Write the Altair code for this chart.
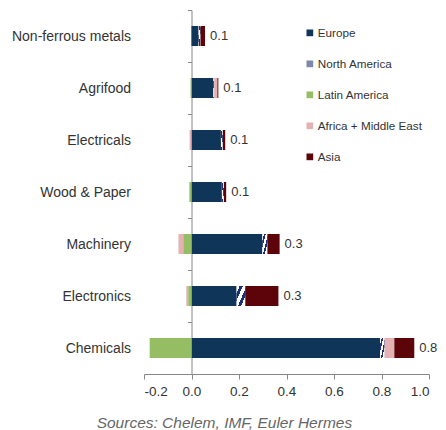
import altair as alt
import pandas as pd

categories = ["Non-ferrous metals", "Agrifood", "Electricals", "Wood & Paper",
              "Machinery", "Electronics", "Chemicals"]
regions = ["Europe", "North America", "Latin America", "Africa + Middle East", "Asia"]
colors = ["#0f3558", "#7e88aa", "#94bd64", "#e5b2b3", "#5d030a"]

europe = [0.030, 0.092, 0.124, 0.128, 0.298, 0.190, 0.794]
north_america = [0.007, 0.003, 0.007, 0.008, 0.021, 0.036, 0.018]
latin_america = [0.000, -0.004, 0.000, -0.009, -0.035, -0.014, -0.176]
africa_me = [0.000, 0.014, -0.008, 0.000, -0.020, -0.008, 0.042]
asia = [0.020, 0.004, 0.011, 0.010, 0.052, 0.140, 0.084]

series = [europe, north_america, latin_america, africa_me, asia]
rows = []
for ri, (reg, vals) in enumerate(zip(regions, series)):
    for cat, v in zip(categories, vals):
        rows.append({"category": cat, "region": reg, "order": ri, "value": v})
df = pd.DataFrame(rows)

W, H = 285, 364
font = "Liberation Sans"
zero_off = -W * 0.2 / 1.2

y_enc = alt.Y("category:N", sort=categories, title=None,
              scale=alt.Scale(paddingInner=0, paddingOuter=0),
              axis=alt.Axis(offset=zero_off, domainColor="#888888", tickColor="#888888",
                            tickBand="extent", tickSize=4, labelPadding=57,
                            labelFontSize=14, labelColor="#333333", labelFont=font))
x_scale = alt.Scale(domain=[-0.2, 1.0], nice=False, zero=False)

base = alt.Chart(df)
stacked = base.transform_stack(stack="value", groupby=["category"], as_=["x0", "x1"],
                               sort=[alt.SortField("order", order="ascending")])

bars = stacked.mark_bar(size=20).encode(
    x=alt.X("x0:Q", scale=x_scale, title=None,
            axis=alt.Axis(values=[-0.2, 0, 0.2, 0.4, 0.6, 0.8, 1.0], format=".1f",
                          labelExpr="replace(datum.label, '\u2212', '-')",
                          grid=False, domainColor="#888888", tickColor="#888888",
                          tickSize=5, labelFontSize=13.5, labelColor="#333333",
                          labelFont=font, labelPadding=5)),
    x2="x1:Q",
    y=y_enc,
    color=alt.Color("region:N", scale=alt.Scale(domain=regions, range=colors),
                    legend=alt.Legend(title=None, orient="none", legendX=160, legendY=17,
                                      symbolType="square", symbolSize=45,
                                      labelFontSize=11.7, labelFont=font, labelColor="#333333",
                                      rowPadding=18, labelOffset=2, symbolStrokeWidth=0)),
)

stripes = {
    "gradient": "linear", "x1": 0, "y1": 0, "x2": 1, "y2": 1,
    "stops": [
        {"offset": 0.0, "color": "#ffffff"}, {"offset": 0.18, "color": "#ffffff"},
        {"offset": 0.18, "color": "#1b2f7a"}, {"offset": 0.36, "color": "#1b2f7a"},
        {"offset": 0.36, "color": "#ffffff"}, {"offset": 0.58, "color": "#ffffff"},
        {"offset": 0.58, "color": "#1b2f7a"}, {"offset": 0.76, "color": "#1b2f7a"},
        {"offset": 0.76, "color": "#ffffff"}, {"offset": 1.0, "color": "#ffffff"},
    ],
}
na_bars = stacked.transform_filter("datum.region == 'North America'").mark_bar(
    size=20, fill=stripes).encode(x="x0:Q", x2="x1:Q", y=alt.Y("category:N", sort=categories))

labels = base.transform_calculate(pos="max(datum.value, 0)").transform_aggregate(
    pos="sum(pos)", total="sum(value)", groupby=["category"]
).mark_text(align="left", baseline="middle", dx=5, fontSize=13, font=font,
            color="#333333").encode(
    x="pos:Q", y=alt.Y("category:N", sort=categories),
    text=alt.Text("total:Q", format=".1f"))

chart = alt.layer(bars, na_bars, labels).properties(
    width=W, height=H,
    autosize=alt.AutoSizeParams(type="none"),
    padding={"left": 136, "top": 2, "right": 9, "bottom": 56},
    title=alt.TitleParams("Sources: Chelem, IMF, Euler Hermes", orient="bottom",
                          anchor="middle", frame="bounds", fontSize=15.5,
                          fontStyle="italic", fontWeight="normal", font=font,
                          color="#666666", offset=18),
).configure_view(stroke=None)

chart.save("out.html", embed_options={"renderer": "svg", "actions": False})
